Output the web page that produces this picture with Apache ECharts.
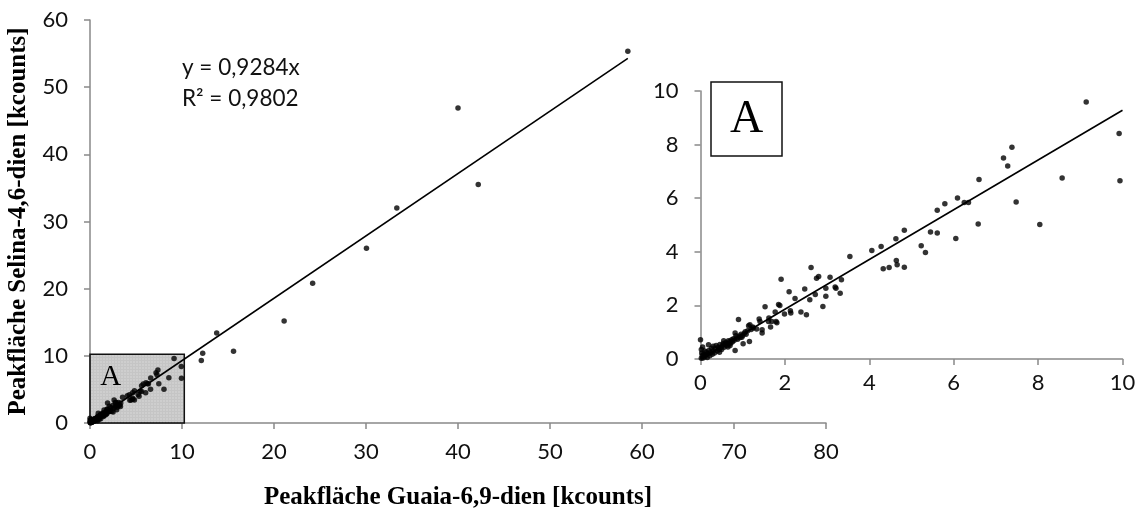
<!DOCTYPE html>
<html>
<head>
<meta charset="utf-8">
<script src="https://cdn.jsdelivr.net/npm/echarts@6/dist/echarts.min.js"></script>
<style>
  html, body { margin: 0; padding: 0; background: #fff; }
  #chart { width: 1140px; height: 508px; }
</style>
</head>
<body>
<div id="chart"></div>
<script>
// Peak areas [kcounts]: Guaia-6,9-dien (x) vs Selina-4,6-dien (y)
const lowPeaks = [
  [0.02,0.03],[0.04,0.12],[0.06,0.04],[0.03,0.22],[0.08,0.18],[0.10,0.08],[0.02,0.35],[0.05,0.45],
  [0.12,0.14],[0.14,0.26],[0.16,0.06],[0.18,0.20],[0.20,0.32],[0.22,0.12],[0.24,0.24],[0.26,0.40],
  [0.28,0.18],[0.30,0.30],[0.19,0.53],[0.33,0.22],[0.35,0.38],[0.37,0.50],[0.40,0.30],[0.42,0.44],
  [0.44,0.36],[0.46,0.54],[0.48,0.42],[0.50,0.35],[0.52,0.50],[0.54,0.58],[0.56,0.44],[0.58,0.54],
  [0.60,0.62],[0.62,0.50],[0.64,0.58],[0.66,0.68],[0.68,0.56],[0.70,0.66],[0.72,0.60],[0.74,0.72],
  [0.76,0.64],[0.78,0.76],[0.80,0.70],[0.86,0.78],[0.88,0.74],[0.92,0.86],[0.94,0.80],[0.96,0.92],
  [1.00,0.88],[1.04,0.96],[1.06,1.02],[1.08,0.92],[1.12,1.05],[1.20,1.10],[1.25,1.16],[0.30,0.48],
  [0.10,0.30],[0.55,0.68],[0.65,0.45],[0.70,0.50],[0.45,0.25],[0.00,0.72],[0.82,0.32]
];
const midPeaks = [
  [9.14,9.59],[9.92,8.41],[9.94,6.65],[8.57,6.75],[8.04,5.02],[7.48,5.86],[7.38,7.90],[7.18,7.50],
  [7.28,7.20],[6.60,6.70],[6.58,5.04],[6.25,5.84],[6.35,5.84],[6.09,6.01],[5.79,5.79],[5.61,5.55],
  [5.45,4.74],[5.61,4.70],[6.05,4.50],[5.23,4.23],[5.33,3.97],[4.83,4.80],[4.63,4.49],[4.28,4.20],
  [4.06,4.05],[4.64,3.68],[4.66,3.52],[4.83,3.42],[4.47,3.41],[4.33,3.37],[3.54,3.82],[3.34,2.96],
  [3.07,3.05],[2.80,3.08],[2.75,3.01],[2.62,3.41],[3.19,2.69],[3.21,2.64],[2.97,2.64],[3.31,2.45],
  [2.97,2.34],[2.72,2.41],[2.47,2.61],[2.59,2.21],[2.90,1.96],[2.38,1.75],[2.51,1.65],[1.91,2.98],
  [2.10,2.51],[2.24,2.26],[1.53,1.95],[1.85,2.03],[1.88,2.00],[1.77,1.75],[1.99,1.68],[2.14,1.72],
  [2.13,1.80],[0.90,1.47],[1.39,1.49],[1.41,1.40],[1.62,1.53],[1.61,1.40],[1.69,1.40],[1.66,1.19],
  [1.79,1.40],[1.81,1.35],[1.14,1.24],[1.17,1.28],[1.24,1.19],[1.33,1.12],[1.46,0.97],[1.46,1.09],
  [0.98,0.81],[1.16,0.65],[1.01,0.57],[0.82,0.97],[0.84,0.87]
];
const highPeaks = [
  [58.46,55.36],[40.0,46.9],[42.2,35.5],[33.35,32.0],[30.05,26.0],[24.2,20.8],[21.1,15.2],
  [15.6,10.7],[13.77,13.4],[12.25,10.4],[12.1,9.3]
];

// Regression through the origin
const slope = 0.9284;
const rSquared = 0.9802;

// Axis ranges and ticks
const mainXTicks = { min: 0, max: 80, interval: 10 };
const mainYTicks = { min: 0, max: 60, interval: 10 };
const zoomTicks = { min: 0, max: 10, interval: 2 };
const zoomRegion = [[0, 0], [10.25, 10.25]];

const allPeaks = lowPeaks.concat(midPeaks, highPeaks);
const maxX = Math.max(...allPeaks.map(p => p[0]));
const fmt = v => v.toFixed(4).replace('.', ',');

// Dotted fill for the zoom region
const tile = document.createElement('canvas');
tile.width = 3; tile.height = 3;
const tctx = tile.getContext('2d');
tctx.fillStyle = 'rgba(140,140,140,0.5)';
tctx.fillRect(0, 0, 3, 3);
tctx.fillStyle = 'rgba(215,215,215,0.5)';
tctx.fillRect(1, 1, 2, 2);

const axisGray = '#898989';
const tickFont = { fontFamily: 'Lato', fontSize: 22, color: '#111' };
const titleFont = { fontFamily: 'Liberation Serif', fontSize: 25, fontWeight: 'bold', color: '#000' };

function axisBase(ticks, gridIndex, margin) {
  return Object.assign({
    type: 'value', gridIndex,
    splitLine: { show: false },
    axisLine: { show: true, lineStyle: { color: axisGray, width: 1.5 } },
    axisTick: { show: true, inside: false, length: 6, lineStyle: { color: axisGray, width: 1.5 } },
    axisLabel: Object.assign({ margin }, tickFont)
  }, ticks);
}

const chart = echarts.init(document.getElementById('chart'), null, { renderer: 'canvas' });
chart.setOption({
  animation: false,
  backgroundColor: '#fff',
  grid: [
    { left: 90, top: 20, width: 736, height: 403, containLabel: false, outerBoundsMode: 'none' },
    { left: 700.5, top: 91, width: 422, height: 268, containLabel: false, outerBoundsMode: 'none' }
  ],
  xAxis: [
    Object.assign(axisBase(mainXTicks, 0, 18), {
      name: 'Peakfläche Guaia-6,9-dien [kcounts]',
      nameLocation: 'middle', nameGap: 62, nameTextStyle: titleFont
    }),
    axisBase(zoomTicks, 1, 13)
  ],
  yAxis: [
    Object.assign(axisBase(mainYTicks, 0, 22), {
      name: 'Peakfläche Selina-4,6-dien [kcounts]',
      nameLocation: 'middle', nameGap: 59, nameTextStyle: titleFont
    }),
    axisBase(zoomTicks, 1, 22)
  ],
  series: [
    {
      type: 'scatter', xAxisIndex: 0, yAxisIndex: 0, z: 2,
      symbolSize: 5.5, itemStyle: { color: '#000' },
      data: allPeaks
    },
    {
      type: 'line', xAxisIndex: 0, yAxisIndex: 0, z: 3,
      symbol: 'none', lineStyle: { color: '#000', width: 1.6 },
      data: [[0, 0], [maxX, slope * maxX]]
    },
    {
      type: 'scatter', xAxisIndex: 0, yAxisIndex: 0, z: 4,
      data: [], silent: true,
      markArea: {
        silent: true,
        itemStyle: { color: { image: tile, repeat: 'repeat' }, borderColor: '#111', borderWidth: 1.5 },
        label: {
          show: true, position: 'insideTopLeft', formatter: 'A', offset: [6, 4],
          fontFamily: 'Liberation Serif', fontSize: 29, color: '#000'
        },
        data: [[{ coord: zoomRegion[0] }, { coord: zoomRegion[1] }]]
      }
    },
    {
      type: 'scatter', xAxisIndex: 1, yAxisIndex: 1, z: 2, clip: true,
      symbolSize: 5.5, itemStyle: { color: '#000' },
      data: allPeaks.filter(p => p[0] <= 10 && p[1] <= 10)
    },
    {
      type: 'line', xAxisIndex: 1, yAxisIndex: 1, z: 3, clip: true,
      symbol: 'none', lineStyle: { color: '#000', width: 1.6 },
      data: [[0, 0], [10, slope * 10]]
    }
  ],
  graphic: [
    {
      type: 'text', left: 182, top: 52,
      style: {
        text: 'y = ' + fmt(slope) + 'x\nR² = ' + fmt(rSquared),
        fontFamily: 'Lato', fontSize: 22.5, lineHeight: 31, fill: '#111'
      }
    },
    {
      type: 'rect', shape: { x: 711, y: 82, width: 71, height: 74 },
      style: { fill: '#fff', stroke: '#111', lineWidth: 1.5 }
    },
    {
      type: 'text', x: 746.5, y: 120,
      style: {
        text: 'A', fontFamily: 'Liberation Serif', fontSize: 46, fill: '#000',
        align: 'center', verticalAlign: 'middle'
      }
    }
  ]
});
</script>
</body>
</html>
